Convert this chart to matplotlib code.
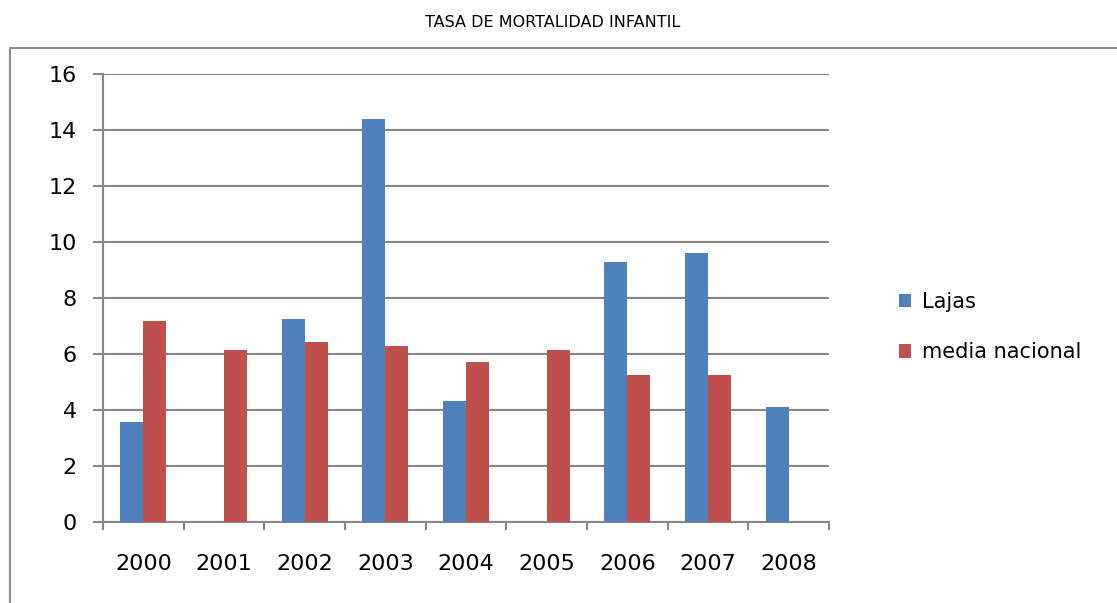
#!/usr/bin/env python3
"""Tasa de mortalidad infantil - Lajas vs media nacional."""
import numpy as np
import matplotlib
matplotlib.use('Agg')
import matplotlib.pyplot as plt
from matplotlib.patches import Rectangle

plt.rcParams.update({'font.family': 'DejaVu Sans'})

years = ['2000', '2001', '2002', '2003', '2004', '2005', '2006', '2007', '2008']
lajas = [3.56, 0, 7.27, 14.41, 4.34, 0, 9.28, 9.63, 4.12]
media = [7.18, 6.13, 6.42, 6.29, 5.73, 6.13, 5.24, 5.24, 0]

BLUE = '#4F81BD'
RED = '#C0504D'
GRID = '#878787'

fig = plt.figure(figsize=(11.17, 6.03), dpi=100)
ax = fig.add_axes([0.0922, 0.1343, 0.650, 0.7425])

x = np.arange(len(years))
w = 0.285
ax.bar(x - w/2, lajas, w, color=BLUE, label='Lajas', zorder=3)
ax.bar(x + w/2, media, w, color=RED, label='media nacional', zorder=3)

ax.set_xlim(-0.5, len(years) - 0.5)
ax.set_ylim(0, 16)
ax.set_yticks(np.arange(0, 17, 2))
ax.grid(axis='y', color=GRID, linewidth=1.5, zorder=0)

# category boundaries as major ticks, labels on minor ticks
ax.set_xticks(np.arange(-0.5, len(years)), labels=[''] * (len(years) + 1))
ax.set_xticks(x, labels=years, minor=True)
ax.tick_params(axis='x', which='major', length=6, width=1.5, color=GRID)
ax.tick_params(axis='x', which='minor', length=0, pad=23, labelsize=16)
ax.tick_params(axis='y', length=7, width=1.5, color=GRID, pad=12, labelsize=16)

for s in ['top', 'right']:
    ax.spines[s].set_visible(False)
for s in ['left', 'bottom']:
    ax.spines[s].set_color(GRID)
    ax.spines[s].set_linewidth(1.5)

ax.legend(loc='center left', bbox_to_anchor=(1.07, 0.435), frameon=False,
          fontsize=15, handlelength=0.6, handleheight=0.6, handletextpad=0.5,
          labelspacing=1.45)

fig.text(0.495, 0.962, 'TASA DE MORTALIDAD INFANTIL', ha='center', va='center',
         fontsize=11.5)

# outer chart border
fig.patches.append(Rectangle((0.009, -0.05), 1.2, 0.97, transform=fig.transFigure,
                             fill=False, edgecolor='#8c8c8c', linewidth=1.5))

fig.savefig('out.png', dpi=100)
plt.close()
